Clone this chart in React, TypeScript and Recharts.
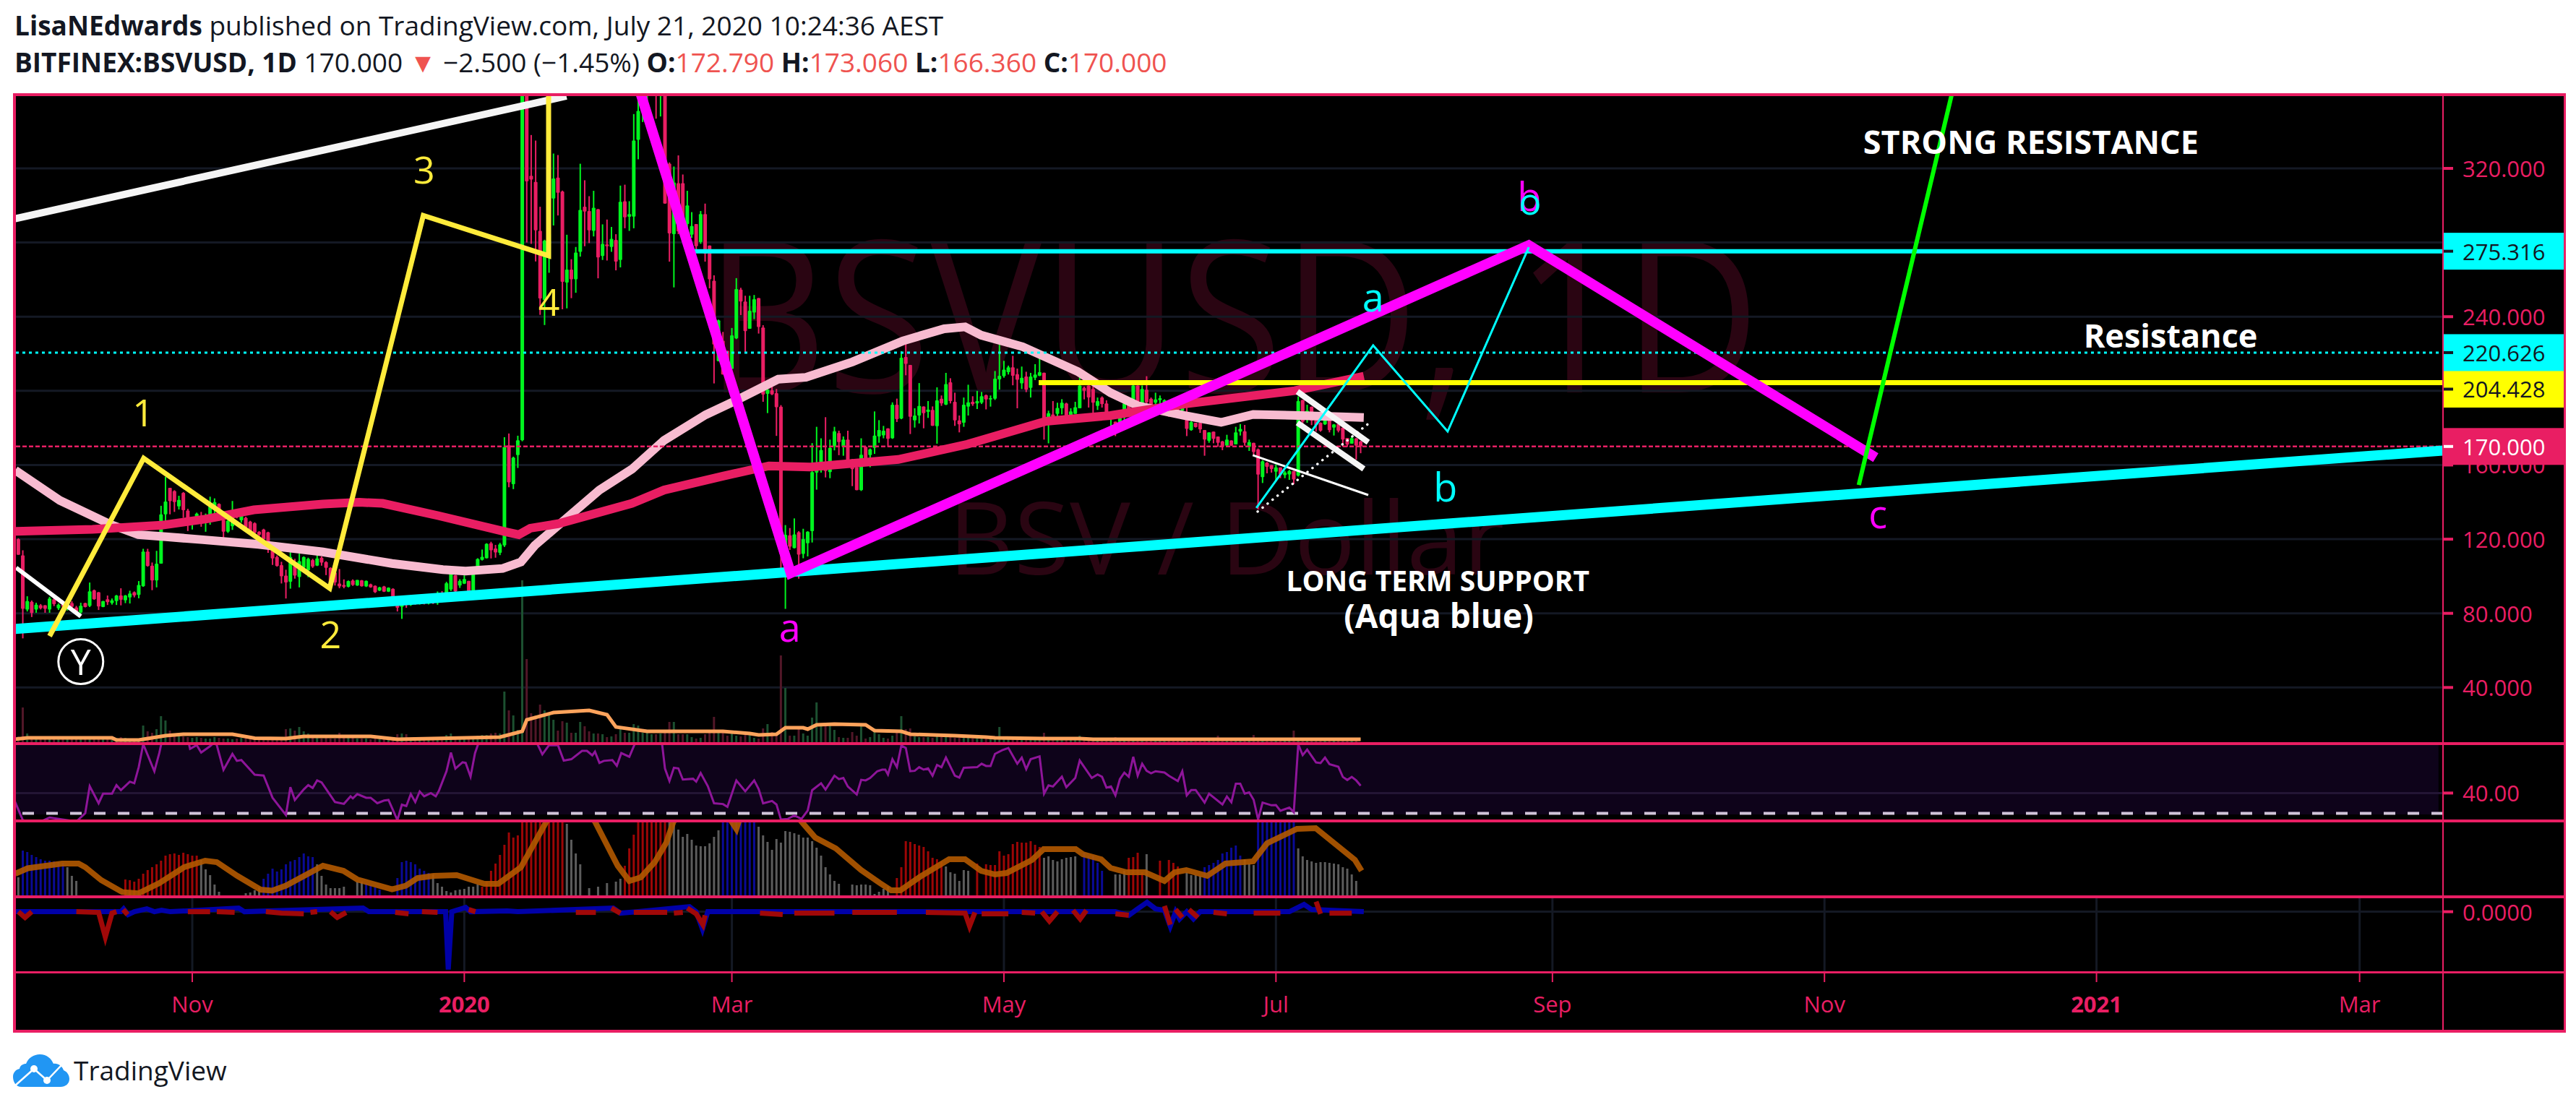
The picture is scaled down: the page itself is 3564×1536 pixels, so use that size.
import React from 'react';
import { ComposedChart, Bar, Line, Scatter, XAxis, YAxis, CartesianGrid, ReferenceArea, ReferenceLine } from 'recharts';

// x values are days counted from 1 Nov 2019
const firstDay = -39;
const xDomain = [-39.55, 504.7];
const timeTicks = [0, 61, 121, 182, 243, 305, 366, 427, 486];
const timeLabels = ['Nov', '2020', 'Mar', 'May', 'Jul', 'Sep', 'Nov', '2021', 'Mar'];
const priceGrid = [40, 80, 120, 160, 200, 240, 280, 320];
const priceTicks = [40, 80, 120, 160, 170, 204.428, 220.626, 240, 275.316, 320];

// open, high, low, close per day
const candles = [
  [120, 120.5, 111.6, 111.6], [111.3, 114, 66.5, 82.4], [82, 89.2, 81, 86.6], [86.2, 86.9, 78, 80.2], [82, 85.7, 80.3, 84.7], [84.4, 85, 82.1, 82.7], [84.4, 84.4, 80.3, 82.4], [82, 88.9, 80.3, 88], [87.6, 88.6, 83.9, 85], [82.7, 85.3, 81.8, 84.7],
  [84.7, 85, 83, 83.6], [82.5, 86, 81.5, 85.5], [85.5, 86.5, 82.5, 83.5], [83.2, 84, 80.2, 80.8], [80.5, 85.7, 79.8, 84.1], [85.5, 85.7, 83.2, 83.4], [84, 96.6, 83.4, 91.9], [92.5, 92.8, 87.3, 87.6], [91.4, 91.5, 81.8, 83.7], [83.4, 86.7, 83.3, 86.6],
  [87.6, 89.6, 84.5, 86], [85.5, 88, 84.7, 87], [86.6, 89.9, 84.5, 89.6], [89.6, 93.5, 84.3, 87.3], [87, 89.9, 85.5, 89.6], [88.6, 92.2, 85.3, 90.7], [91.4, 91.8, 88.6, 89.6], [89.9, 97.4, 88.1, 95.3], [94.6, 114.8, 94.3, 113.3], [113.3, 114.8, 105.2, 105.5],
  [105.7, 107.4, 92.5, 97.7], [97.7, 113.7, 94, 106.8], [106.8, 138, 106.8, 133.4], [133.4, 153.6, 127.6, 140.3], [147.7, 147.7, 133.4, 140.5], [146, 146.4, 134.7, 140], [137.7, 143.4, 136, 141.2], [145, 145.4, 131.5, 135.6], [135.4, 136.4, 124.4, 128.6], [127.8, 131.2, 125.2, 130.4],
  [129.1, 134.3, 128.6, 133.8], [132, 134.7, 126.7, 131], [128.6, 133.8, 124, 132.1], [131.7, 142.9, 127.8, 138], [137.3, 142, 132, 140], [139, 139.3, 130, 132.1], [130.4, 131.5, 120.8, 124], [124, 130.8, 123.4, 130], [127, 140.6, 125, 135], [136, 136.4, 131.2, 132],
  [130.2, 134, 128.9, 133.4], [131.5, 132.1, 126, 126.3], [129.5, 129.9, 123.4, 123.7], [128.6, 129.1, 122.4, 123.4], [124, 124.3, 121.7, 122.4], [125.2, 125.6, 119.8, 120], [123.7, 124, 112.6, 116.1], [116.6, 116.9, 106.1, 109.6], [110.4, 111.2, 105.2, 105.5], [106, 107.8, 96.1, 100],
  [100.3, 103.5, 88, 96.6], [97, 113.7, 93.3, 110.4], [105.5, 109.4, 98.7, 100.3], [99.6, 112.2, 94, 108.1], [104.5, 110.7, 104.2, 110.4], [103.2, 110, 99.5, 109.4], [108.7, 109.4, 104.5, 105.2], [105.7, 113.3, 105.5, 109.6], [110, 110.7, 105.7, 107.4], [107.7, 108.1, 100.6, 104.5],
  [104.5, 104.8, 93.8, 96.6], [102, 103.5, 95, 96.6], [96.1, 103.9, 93.5, 94.5], [95.3, 98.3, 93.5, 94.3], [94.3, 97.7, 94, 97.4], [97.7, 98.3, 94.8, 95.3], [95, 98, 94.8, 98], [97.8, 98, 94.4, 94.6], [94.5, 97.7, 94.2, 97.5], [95.7, 96, 93.8, 94],
  [94.9, 95, 91, 91.4], [92.3, 94.3, 92, 94], [94.5, 94.8, 91.5, 91.7], [91.7, 94, 91.5, 93.8], [93.2, 93.5, 88.5, 88.9], [88.9, 89, 81, 83], [83.5, 88.8, 77, 86], [86, 86.7, 83, 84.5], [84.5, 86.5, 84, 86], [86, 87, 84.6, 85],
  [85, 87, 84.7, 86.4], [86.4, 87, 84.8, 85.2], [85.2, 87.2, 84.8, 86.8], [86.8, 88, 85, 85.6], [85.6, 91.8, 84.6, 88.5], [88.5, 92, 86, 87.6], [88, 97, 87, 96.3], [92.8, 102, 92, 101.5], [100.5, 100.7, 91.5, 91.8], [95, 98.4, 93.7, 97.5],
  [96, 100.5, 95.8, 98.5], [97.5, 97.5, 91.7, 91.7], [92.3, 104.5, 91.4, 103.2], [103.2, 109.7, 102.7, 109.3], [108.8, 114.4, 108.5, 110.5], [109.7, 117.8, 109.6, 117.5], [117.8, 118.6, 109.6, 114], [115, 116.9, 110, 112.8], [112.6, 118, 111.4, 117.2], [116.6, 175, 115.8, 169.7],
  [170.6, 177, 148, 150.6], [149.7, 164.5, 147, 164], [165.3, 175.8, 158.4, 173.3], [173.3, 380, 172.8, 370], [370, 372, 280, 313], [316, 338, 279.3, 314], [312.7, 335, 269.8, 286.6], [286.3, 299.3, 241, 249.8], [249, 281.5, 235.5, 281], [272, 290, 263.7, 285],
  [303.7, 328, 289.2, 314.5], [315, 327.2, 294.6, 306.8], [307.5, 308, 244, 258.8], [258.4, 284.2, 244.5, 265.4], [265.4, 271, 250, 260.2], [260.2, 277.6, 252.9, 274.6], [275, 322.5, 272.4, 297.6], [299.3, 313.6, 278, 296.7], [297, 305, 279.7, 286.6], [286.3, 307.9, 283.3, 298.8],
  [298, 298.1, 260.7, 272], [272.7, 289.8, 270.6, 279.3], [279, 292.4, 270.3, 278], [277.6, 288.4, 275, 282], [281.4, 284.5, 265, 269.7], [270.6, 310.7, 266.6, 302], [302.3, 311.2, 287.7, 293.6], [293.9, 302.3, 286.3, 295.3], [294, 349.3, 287.7, 335], [335.4, 372, 324.9, 351],
  [351, 380, 345, 362], [360, 385, 355, 372], [372, 395, 360, 380], [380, 400, 346.8, 359], [360, 385, 348, 365], [375, 385, 301, 301], [322.5, 323.2, 269.7, 284.9], [284.5, 321, 255.8, 312.4], [312, 327, 284.5, 286], [312, 316.7, 284.5, 287],
  [290, 307.9, 283.8, 300], [284.2, 296.4, 282.5, 288.9], [290, 289.8, 275.7, 278], [280.2, 297, 279.3, 295.3], [295.3, 301, 269.7, 274], [278.4, 278.4, 255.3, 260.2], [259.4, 262.3, 204, 225], [216, 238.4, 215.9, 238], [227, 231.8, 208.8, 208.8], [221.6, 221.6, 208, 212],
  [211.8, 233.9, 211.8, 230], [228.3, 260.8, 227.9, 254.9], [254.6, 255.6, 240.9, 248.2], [248.2, 251.3, 220.9, 232.2], [233.5, 251.3, 233.5, 243.2], [242.2, 251.7, 238.7, 249.4], [250, 250.1, 230.9, 234.4], [234.1, 235.4, 194.1, 198], [198.4, 203.6, 188, 200.6], [200.3, 205.3, 197.7, 198.1],
  [198.8, 201, 175.7, 191.2], [191.5, 192.3, 104, 112], [103.5, 127.6, 82.4, 122.4], [122.1, 126, 114.2, 115.9], [115.2, 131.2, 115, 122.6], [123.7, 124.3, 98.7, 111.7], [112, 125.6, 109.7, 120], [117.8, 124.3, 110.7, 124], [124.3, 171.8, 118.2, 156.2], [155.9, 180.6, 146.7, 160.7],
  [157.2, 174.4, 155.9, 168.1], [161.4, 185.8, 153.3, 156.8], [156.2, 173.7, 152.9, 169.2], [170.2, 180.6, 167.9, 178.2], [177.2, 178.5, 165.3, 172.4], [169.8, 175.4, 165, 173.7], [173.7, 178.5, 162.7, 162.7], [162.9, 163.3, 148.6, 157.7], [158.8, 162, 146.4, 146.4], [146.4, 174.4, 146, 165.5],
  [169.8, 170, 163, 163], [165.3, 168.9, 158.8, 168.5], [169.2, 188.9, 166, 175.9], [175.4, 184.2, 172, 178.9], [176, 181.1, 174.4, 178.5], [179.8, 179.8, 169.7, 174.1], [174.4, 193.8, 174.1, 192.5], [192.5, 195.8, 183.2, 184.7], [185, 221.4, 184.7, 217.9], [218.3, 227, 208.4, 214.6],
  [214, 214, 176.7, 186], [184.1, 190.6, 180.2, 186.7], [186.7, 204.2, 182.4, 191.9], [191.6, 191.6, 179.8, 188], [188.6, 194.5, 185.4, 189.9], [189.7, 191.6, 181.1, 181.1], [180.9, 201.9, 171.5, 194.9], [195.8, 197.5, 191.9, 193.2], [192.5, 209.7, 192.3, 203.6], [204.6, 206.8, 193.2, 194.5],
  [194.1, 199, 181.1, 184.1], [184.1, 186.7, 177.6, 181.9], [182.8, 196.4, 180.6, 192.5], [191.5, 203.3, 186.7, 193.8], [194.1, 197.1, 191.9, 192.8], [193.2, 200, 190.2, 194.5], [193.6, 199.4, 192.9, 197.1], [197.7, 198, 190, 195.4], [195.4, 197.5, 191.5, 196], [195.8, 210.7, 195.1, 206.6],
  [206.2, 228.3, 200.7, 208.1], [207.9, 216.2, 207.1, 211.4], [210.1, 213.6, 208.8, 212.7], [212.7, 218.9, 203, 208.1], [209, 212, 190.6, 206], [204, 213.1, 201, 207.1], [207.7, 210.3, 199.3, 200.6], [201.6, 209.7, 196.4, 207.7], [207.1, 214.4, 205.8, 208.8], [208.1, 218.5, 207.9, 210.1],
  [209.8, 209.8, 173.7, 182.8], [182.8, 189.3, 171.7, 188], [187.3, 194.5, 183.4, 183.4], [187.6, 193.6, 184.3, 190.8], [190.6, 195.5, 187.3, 193.6], [193.2, 193.6, 184.5, 185.4], [185.8, 190.6, 185, 188.9], [187.6, 194.1, 187.6, 191.2], [190.6, 208.8, 190.6, 202.9], [201.6, 202.3, 195.4, 200],
  [202.9, 202.9, 191, 196.4], [201, 202.9, 186.7, 193.6], [191.9, 196.4, 189.7, 194.5], [196.4, 197, 191, 192.8], [193.2, 194.9, 187.3, 187.3], [184.7, 188, 180.8, 186.3], [183.4, 183.4, 175.6, 178], [182.8, 188.6, 178.9, 188.6], [187.9, 193.6, 184, 193.2], [193.6, 194.9, 188.6, 188.6],
  [191.2, 203.6, 187.3, 202.9], [202.9, 202.9, 190, 193.8], [191.2, 202.9, 190.6, 201], [200.6, 207.9, 189.3, 193.8], [195.8, 196.4, 191.2, 192.5], [193.6, 199, 192.3, 195.4], [195, 197.5, 193, 196], [193.5, 195.4, 191.9, 195], [192.8, 193.8, 186, 188.6], [192, 193, 188.4, 189],
  [192, 193, 187.6, 188], [189.3, 196.4, 187.3, 194.5], [188.6, 191.9, 175.6, 179.5], [178.8, 183.7, 178.5, 183.2], [182.8, 182.8, 180.2, 180.5], [182.8, 182.8, 177.3, 179.2], [178.9, 178.9, 165, 173.7], [173, 177.6, 172, 177.6], [178, 178, 171.7, 174.1], [175.4, 175.4, 169.8, 172],
  [172.8, 173, 168, 169.8], [170.4, 176.3, 170.2, 173.7], [173.2, 173.3, 170.2, 170.4], [171.1, 180.6, 171.1, 177.6], [178, 182.1, 175.9, 179.5], [178.2, 181.6, 170.4, 172], [169.8, 173.7, 167.6, 172.4], [172, 172, 165.5, 167], [168.5, 168.9, 136, 154.8], [153.5, 162.6, 150.3, 162],
  [161.3, 161.6, 155.5, 159], [160, 160, 155.9, 157.8], [156.4, 160.3, 151, 158.7], [158.7, 158.7, 152.9, 154.8], [154.5, 156.8, 152.9, 156], [154.9, 157.4, 152, 156.8], [156.8, 156.8, 149.6, 152.2], [154.2, 197, 153.8, 194.5], [195.1, 195.1, 181.5, 183.4], [184.5, 192.5, 182.8, 189.3],
  [191.5, 191.5, 181.5, 184], [184.7, 185, 178, 181.5], [182.8, 183, 178, 178.5], [181.9, 187, 181.6, 186.7], [185.4, 185.4, 177.6, 178.8], [180.2, 182.1, 175.9, 181.9], [182.1, 182.1, 177.6, 178.5], [180.2, 180.2, 169.8, 173.7], [174.6, 174.6, 169.8, 171], [171.5, 175.4, 171.5, 174.5],
  [174.3, 174.6, 162.9, 170.4], [172.79, 173.06, 166.36, 170],
];

const volumes = [
  8, 48, 12, 8, 6, 6, 5, 5, 6, 5, 5, 5, 6, 6, 7, 5, 5, 4, 5, 5, 6, 6, 6, 7, 6, 5, 5, 5, 23, 15, 13, 18, 36, 30, 16, 10, 8, 8, 7,
  6, 7, 6, 5, 5, 7, 6, 5, 5, 4, 5, 6, 5, 5, 5, 5, 5, 6, 6, 5, 6, 18, 19, 16, 21, 15, 12, 8, 6, 5, 6, 5, 5, 13, 8, 6, 6, 5, 5, 5, 4, 5, 4, 4, 4, 5, 11, 12, 11, 6, 5, 5, 5, 4, 5, 6, 6, 10, 12, 7, 7, 8, 7, 8, 9, 10, 10, 12, 13, 12,
  70, 44, 37, 17, 224, 115, 40, 37, 52, 44, 38, 31, 16, 29, 27, 13, 13, 28, 22, 15, 12, 12, 11, 7, 8, 11, 19, 13, 13, 25, 23, 13, 13, 11, 11, 12, 17, 28, 28, 11, 11, 11, 7, 5, 6, 11, 15, 35, 14,
  14, 9, 12, 9, 8, 10, 11, 6, 5, 19, 25, 14, 10, 120, 75, 9, 9, 19, 12, 9, 34, 55, 24, 23, 23, 17, 7, 6, 6, 14, 9, 25, 5, 7, 19, 11, 6, 5, 9, 14, 36, 18, 19, 8, 7, 7, 7, 6, 8, 7, 7, 9, 6, 6, 6, 6, 5, 5, 5, 5, 5, 7, 21, 5, 5,
  4, 4, 4, 4, 4, 4, 4, 13, 4, 4, 4, 4, 4, 4, 4, 9, 4, 3, 3, 3, 3, 3, 3, 7, 3, 3, 3, 3, 3, 3, 3, 3, 3, 3, 3, 3, 3, 3, 3, 3, 3, 3, 3, 3, 3, 3, 9, 3, 3, 3, 3, 3, 3, 3, 10, 3, 3, 3, 3, 3, 3, 3, 3, 16, 4, 4, 4, 4, 4, 3, 3, 3, 3, 3, 3, 3, 3, 3,
];

const volumeAverage = [[-40, 4], [-37, 6], [-18, 6], [-17, 3], [-12, 3], [-6, 9], [-2, 11], [9, 11], [14, 5.5], [21, 5], [25, 8], [40, 8], [46, 4], [69, 7], [74, 15], [75, 31], [81, 41], [89, 44], [93, 38], [95, 21], [102, 15], [119, 15], [125, 12], [127, 10], [131, 11], [133, 20], [137, 20], [138, 18], [140, 24], [144, 25], [151, 24], [153, 16], [159, 15], [161, 11], [171, 9], [178, 7], [180, 6], [191, 5], [199, 5], [202, 4], [262, 4]];

const slowAverage = [[-39.7, 157.2], [-29.7, 140.9], [-18.3, 127.9], [-12.1, 122.4], [-5.9, 121.3], [2.4, 119.7], [14.8, 117.2], [29.3, 113.1], [44.8, 106.9], [56.2, 103.6], [61.3, 102.8], [69.6, 104.2], [73.7, 107.7], [76.8, 116.6], [91.3, 146.5], [98.6, 157.8], [105.8, 173.3], [115.1, 187.1], [122.1, 195], [131.4, 206.3], [137.6, 207.3], [148, 215.6], [159.3, 226.9], [168.6, 233.5], [173.3, 234.5], [176.9, 230], [186.2, 223.8], [198.6, 210.4], [205.9, 199], [212.1, 191.9], [222.4, 186.7], [230.7, 183], [237.9, 187.3], [248.3, 186.7], [262.7, 185.6]];
const longAverage = [[-39.7, 124.2], [-22.4, 125.3], [-6.9, 127.5], [3.4, 131], [13.8, 135.8], [29.3, 138.9], [37.5, 139.9], [42.7, 139.3], [55.1, 132.7], [70.6, 123.8], [73.2, 122.4], [75.8, 125.9], [82, 128.3], [98.6, 139.3], [105.8, 146.5], [119, 154], [129.3, 159.5], [138.6, 158.9], [158.3, 163], [173.8, 171.2], [191.4, 183.6], [205.9, 186.7], [222.4, 192.9], [247.2, 200.1], [262.7, 207.9]];

const rsiLine = [[-40, 37], [-38, 26.7], [-35, 25], [-32, 28], [-26, 26], [-24, 30.1], [-23, 43.4], [-21, 35], [-20, 39.7], [-18, 39.7], [-17, 43.9], [-16, 41.4], [-14, 45.6], [-13, 44.8], [-12, 52.8], [-11, 64], [-8.5, 50.7], [-7.4, 59.6], [-6.7, 66.5], [-1, 66.5], [-0.5, 61.7], [1, 63.5], [2, 59.9], [4, 63], [5, 65], [5.5, 63.5], [7, 51.4], [9, 59.2], [10, 55.8], [11, 56.2], [14, 49], [16, 48.6], [18, 37.7], [21, 29.2], [22, 42.9], [23, 36.6], [25, 41.8], [26, 43.9], [27, 42.5], [28, 46.2], [29, 45.2], [32, 35.6], [34, 34.7], [35.5, 38.4], [36, 37.4], [37, 39.5], [39, 37.7], [40, 37.7], [41.5, 35], [43, 36.3], [44, 36.6], [46, 26.7], [47, 34.3], [48, 33.6], [49, 39.5], [50, 35.6], [51, 40.8], [52, 38.4], [53.5, 40], [54.6, 38.4], [55.3, 41.1], [57, 50.7], [58, 59.9], [59, 52], [60.6, 55.1], [61.3, 54.8], [62.4, 48], [63.4, 59.6], [64.5, 66.5], [77, 66.5], [77.4, 64], [78.5, 59], [80, 63.5], [82, 63.5], [83.3, 55.9], [85, 56.6], [87.4, 60.7], [88.5, 60.7], [89.7, 58.5], [90.3, 60.3], [91.3, 54.8], [92.3, 55.8], [94.2, 56.2], [95.2, 53.4], [96.2, 59.6], [98, 57.8], [99.4, 65], [105.3, 65], [106, 52], [107, 45.9], [108, 52.4], [109, 52.1], [110, 46.6], [112.3, 47], [113, 45.6], [114, 49.8], [115.6, 43.4], [117, 35], [119, 34.6], [120, 33.2], [122, 46.2], [124, 40.9], [126, 46.2], [127, 42], [128, 34.9], [130, 36.1], [131, 34.4], [132, 27], [133.5, 27.3], [135, 29], [136.6, 27.3], [138, 31.4], [139, 41.4], [141, 44.8], [142, 41.7], [144, 48.5], [145, 46.8], [146, 47.4], [147, 43.2], [149, 39.3], [150, 46.5], [151, 46.2], [152, 47.4], [153.6, 50.7], [154.7, 51.5], [155.4, 51.5], [156, 49.1], [157, 56.6], [158, 52.7], [159, 63.3], [160, 62.1], [161, 50.7], [162, 50.9], [163, 52.7], [164, 51.5], [165, 52.1], [166, 48.5], [167, 53.8], [168, 52.7], [169, 57.4], [171, 48.5], [172, 47.6], [173, 52.4], [176, 52.7], [177, 54.4], [178, 53.3], [179, 53.3], [180, 59.2], [181.6, 61], [183, 62.1], [185, 54.4], [186, 57.4], [187, 51.7], [188, 56.6], [190, 58], [191, 39.7], [192, 43.8], [193, 43.2], [195, 48], [196, 42.9], [198, 47.4], [199, 56], [201.7, 47.4], [203, 49.1], [204, 48], [205, 42.6], [206, 43.2], [207, 38.9], [208, 46.8], [209, 50], [210, 48], [211, 57.8], [212, 48.5], [213, 54.4], [214, 50.9], [215, 49.7], [216, 50.7], [218, 50.1], [219, 48.5], [221, 45.9], [222, 50.7], [223, 38.9], [224, 41.5], [225, 41.5], [227, 35.3], [228, 39.7], [231, 34.4], [232, 38.3], [233, 35.5], [234, 44.6], [235, 44.6], [236, 39.7], [237, 40.3], [238, 36.7], [239, 27], [240, 35.3], [242, 34], [243, 34.1], [244, 31.3], [246, 32.9], [247, 30.6], [248, 63.9], [249, 58.6], [250, 61.3], [252, 55], [253, 54.7], [254, 57.4], [255, 54.2], [257, 52.9], [258, 47.9], [259, 46.4], [260, 47.9], [261, 46.2], [262, 43.6]];

// histogram of the third pane, [day, height]
const histBlue = [[-38, 62], [-37, 60], [-36, 56], [-35, 53], [-34, 50], [-33, 48], [-32, 48], [-31, 47], [-30, 46], [-29, 45], [16, 23], [17, 30], [18, 37], [19, 33], [20, 36], [21, 43], [22, 47], [23, 49], [24, 53], [25, 58], [26, 54], [27, 53], [39, 17], [40, 14], [41, 11], [42, 8], [46, 24], [47, 46], [48, 48], [49, 46], [50, 43], [51, 37], [52, 34], [53, 31], [119, 110], [120, 110], [121, 110], [122, 110], [123, 110], [124, 110], [125, 110], [126, 110], [200, 59], [201, 54], [202, 55], [203, 45], [204, 34], [227, 39], [228, 42], [229, 45], [230, 49], [231, 58], [232, 60], [233, 66], [234, 69], [235, 55], [239, 110], [240, 110], [241, 110], [242, 110], [243, 110], [244, 110], [245, 110], [246, 110], [247, 110]];
const histRed = [[-15, 22], [-14, 21], [-13, 19], [-12, 23], [-11, 30], [-10, 35], [-9, 39], [-8, 43], [-7, 48], [-6, 55], [-5, 57], [-4, 58], [-3, 56], [-2, 59], [-1, 57], [0, 55], [1, 55], [65, 12], [66, 19], [67, 34], [68, 44], [69, 56], [70, 70], [71, 87], [72, 80], [73, 83], [74, 104], [75, 110], [76, 110], [77, 110], [78, 110], [79, 110], [80, 110], [81, 110], [82, 110], [83, 110], [97, 41], [98, 65], [99, 84], [100, 104], [101, 110], [102, 110], [103, 110], [104, 110], [105, 110], [106, 110], [158, 24], [159, 39], [160, 75], [161, 74], [162, 71], [163, 69], [164, 67], [165, 61], [166, 52], [167, 50], [168, 47], [176, 44], [178, 43], [179, 42], [180, 42], [181, 61], [182, 55], [183, 57], [184, 71], [185, 74], [186, 73], [187, 73], [188, 75], [189, 70], [190, 67], [210, 52], [211, 53], [212, 59], [213, 32], [217, 48], [219, 49], [220, 45], [221, 40]];
const histGrey = [[-39, 25], [-28, 39], [-27, 27], [-26, 20], [2, 49], [3, 36], [4, 28], [5, 15], [6, 5], [12, 3], [13, 4], [14, 7], [15, 11], [28, 43], [29, 27], [30, 15], [31, 10], [32, 10], [33, 10], [34, 12], [37, 19], [38, 19], [54, 29], [55, 17], [56, 12], [57, 6], [58, 4], [59, 7], [60, 8], [61, 9], [62, 12], [63, 12], [64, 15], [84, 99], [85, 77], [86, 58], [87, 43], [89, 10], [91, 12], [93, 17], [95, 19], [96, 23], [107, 104], [108, 104], [109, 91], [110, 81], [111, 85], [112, 77], [113, 69], [114, 68], [115, 68], [116, 72], [117, 81], [118, 90], [127, 95], [128, 83], [129, 74], [130, 63], [131, 78], [132, 73], [133, 89], [134, 88], [135, 86], [136, 84], [137, 80], [138, 80], [139, 75], [140, 66], [141, 55], [142, 39], [143, 29], [144, 20], [145, 16], [148, 15], [149, 14], [150, 15], [151, 15], [152, 14], [153, 2], [154, 5], [155, 9], [156, 12], [169, 40], [170, 32], [171, 30], [172, 20], [173, 35], [174, 34], [191, 52], [192, 54], [193, 49], [194, 47], [195, 50], [196, 52], [197, 53], [198, 54], [207, 29], [208, 29], [209, 34], [214, 57], [223, 32], [224, 28], [225, 28], [226, 27], [236, 50], [237, 44], [238, 42], [248, 65], [249, 54], [250, 49], [251, 47], [252, 45], [253, 46], [254, 46], [255, 45], [256, 44], [257, 43], [258, 39], [259, 37], [260, 29], [261, 20]];
const histSignal = [[-39.7, 30], [-36.9, 37.5], [-32.8, 41], [-29.2, 44], [-25.5, 44], [-24, 39], [-20.4, 21], [-15.7, 4.6], [-12.1, 2.7], [-7.4, 17], [-1.8, 39], [2.9, 48], [5.5, 46], [10.1, 27], [15.3, 8], [17.9, 6.6], [21, 13.5], [29.3, 41], [33.9, 34], [37, 22], [44.8, 8.5], [47.9, 13.5], [50.5, 24], [54.1, 27], [59.3, 28], [65.5, 16], [68.6, 16], [73.7, 39], [79.4, 102], [84, 130], [87, 130], [90.3, 102], [95.4, 41], [98, 20], [100.6, 25], [103.7, 46], [106.3, 73], [107.9, 102], [112, 130], [118, 130], [122, 92], [124, 130], [133, 130], [136.6, 102], [139.7, 80], [144.3, 65], [150, 35], [154.2, 17], [156.7, 7], [158.8, 7], [163.5, 27], [169.7, 50], [173.3, 50], [176.9, 34], [180, 29], [182.6, 31], [188.3, 49], [190.9, 64], [198.1, 64], [199.7, 57], [203.8, 50], [205.9, 38], [209.5, 32], [213.6, 32], [218, 20], [220.3, 32], [222.9, 35], [227.6, 27], [231.7, 44], [237.9, 47], [241, 72], [247.7, 92], [251.9, 93], [260.7, 49], [262.2, 34]];

const flowBlue = [[-40, 0], [-16, 0], [-15.4, 4], [-14.4, -4], [-13, 0], [-10.2, 4], [-8.5, 0], [-6.9, 2], [-4.9, 0], [10.4, 5], [11.7, 0], [38.3, 5], [39.6, 0], [56.8, 0], [57.4, -80], [58.2, 0], [61.3, 6], [62.4, 0], [70.6, 1], [73, 0], [94.4, 5], [96, -2], [100, 0], [111.5, 7], [113, 0], [114.4, -24], [115.6, 0], [207, 0], [210, -5], [212, 4], [214.1, 13], [216, 4], [218, 2], [219.3, -20], [220.5, 0], [221.4, -10], [223, 0], [224.5, -10], [226, 0], [246, 0], [249.3, 10], [251, 3], [262.7, 0]];
const flowRedRuns = [
  [[-39, 0], [-37.5, -8], [-36, 0]],
  [[-26, 0], [-21, -1], [-19.5, -35], [-18, -2], [-17, 0]],
  [[-15.5, 3], [-14.5, -4]],
  [[-1, 0], [4, 0]],
  [[5.5, 0], [9.5, -1]],
  [[16.5, 0], [20, -2], [25, -3]],
  [[26.5, -1], [28, 0]],
  [[31, 0], [32.5, -8], [34.5, -1]],
  [[45.5, -1], [48.5, -3]],
  [[51.5, 0], [55, -1]],
  [[62, 3], [63.5, 0]],
  [[86, -1], [90.5, -1]],
  [[94, 5], [96, -2]],
  [[99, -1], [106.5, -1]],
  [[108, -2], [110, -1]],
  [[111, 5], [113, -3], [114.5, -18], [115, -5]],
  [[127.3, -2], [132.4, -4]],
  [[135, -2], [144, -2]],
  [[148, -1], [158, -1]],
  [[164.5, -1], [173.3, -2], [174.3, -20], [175.5, -1]],
  [[177, -3], [183, -3]],
  [[186, -1], [189, -2]],
  [[190.5, 0], [192.2, -13], [194, 0]],
  [[197.5, 2], [199.1, -10], [200.5, 2]],
  [[207, -3], [210, -5]],
  [[218, 8], [219.3, -18]],
  [[220.5, 3], [222, -8]],
  [[223.5, 3], [225.5, -8]],
  [[229, -1], [232, -3]],
  [[238, -2], [244, -2]],
  [[252, 14], [253, -3]],
  [[255, -2], [260, -2]],
];

// drawings on the price pane, [day, price]
const whiteTrend = [[-39.7, 292.9], [83.9, 359]];
const whiteBreak = [[-39.5, 104.6], [-25, 78.4]];
const yellowWave = [[-32, 67.7], [-10.9, 163.6], [30.8, 93.5], [51.8, 294.6], [79.9, 272.9], [79.9, 362]];
const magentaWave = [[100.6, 359.9], [134.2, 101.7], [299.7, 278.5], [377.5, 164]];
const supportLine = [[-39.7, 71.6], [504.7, 167.8]];
const resistanceTop = [[112.3, 275.316], [504.7, 275.316]];
const resistanceMid = [[-39.55, 220.626], [504.7, 220.626]];
const resistanceLow = [[189.8, 204.428], [504.7, 204.428]];
const lastPrice = [[-39.55, 170], [504.7, 170]];
const greenRise = [[373.7, 149.2], [394.5, 359.5]];
const cyanForecast = [[238.6, 136.8], [264.8, 224.5], [281.5, 178.1], [299.7, 277.5]];
const flagDotted = [[238.9, 134.9], [264, 182.8]];
const flagThin = [[237.8, 165.3], [263.7, 143.8]];
const flagUpper = [[247.8, 199.6], [263.7, 172.3]];
const flagLower = [[247.8, 182.8], [262.7, 157.9]];

const annotations = [
  { day: -11, price: 188.8, text: '1', kind: 'yellow' },
  { day: 31, price: 69, text: '2', kind: 'yellow' },
  { day: 52, price: 319.7, text: '3', kind: 'yellow' },
  { day: 80, price: 248.6, text: '4', kind: 'yellow' },
  { day: -25, price: 54, text: 'Y', kind: 'ring' },
  { day: 134, price: 72.9, text: 'a', kind: 'magenta' },
  { day: 264.8, price: 251, text: 'a', kind: 'cyan' },
  { day: 281, price: 148.5, text: 'b', kind: 'cyan' },
  { day: 299.8, price: 305.2, text: 'b', kind: 'magenta' },
  { day: 300, price: 303, text: 'o', kind: 'cyanSmall' },
  { day: 378, price: 134, text: 'c', kind: 'magenta' },
  { day: 412.3, price: 334.8, text: 'STRONG RESISTANCE', kind: 'strong' },
  { day: 443.6, price: 230, text: 'Resistance', kind: 'resistance' },
  { day: 279.3, price: 98.2, text: 'LONG TERM SUPPORT', kind: 'support' },
  { day: 279.5, price: 79, text: '(Aqua blue)', kind: 'aqua' },
];

const FONT = '"Open Sans", sans-serif';
const ACCENT = '#e91e63';
const GRID = '#141924';
const PLOT_RIGHT = 167;
const CHART_W = 3525;
const noMargin = { top: 0, right: 0, bottom: 0, left: 0 };
const sideMargin = { top: 0, right: PLOT_RIGHT, bottom: 0, left: 0 };

const annotationStyle: Record<string, any> = {
  yellow: { color: '#ffeb3b', size: 52, weight: 400 },
  ring: { color: '#ffffff', size: 50, weight: 400 },
  magenta: { color: '#ff00ff', size: 54, weight: 400 },
  cyan: { color: '#00ffff', size: 54, weight: 400 },
  cyanSmall: { color: '#00ffff', size: 52, weight: 400 },
  strong: { color: '#ffffff', size: 45, weight: 700 },
  resistance: { color: '#ffffff', size: 45, weight: 700 },
  support: { color: '#ffffff', size: 39, weight: 700 },
  aqua: { color: '#ffffff', size: 46, weight: 700 },
};

const levelBoxes: Record<number, any> = {
  170: { fill: ACCENT, color: '#ffffff', shift: 0 },
  204.428: { fill: '#ffff00', color: '#131722', shift: 9 },
  220.626: { fill: '#00ffff', color: '#131722', shift: 0 },
  275.316: { fill: '#00ffff', color: '#131722', shift: 0 },
};

const toPoints = (list: number[][]) => list.map(([day, value]) => ({ day, value }));

const candleRows = candles.map(([o, h, l, c], i) => ({ day: firstDay + i, o, h, l, c, range: [l, h] }));
const volumeRows = volumes.map((vol, i) => ({ day: firstDay + i, vol, fill: candles[i] && candles[i][3] < candles[i][0] ? '#521728' : '#1c5030' }));
const histRows = [
  ...histBlue.map(([day, value]) => ({ day, value, fill: '#0a0a96' })),
  ...histRed.map(([day, value]) => ({ day, value, fill: '#9c0606' })),
  ...histGrey.map(([day, value]) => ({ day, value, fill: '#5c5c5c' })),
].sort((a, b) => a.day - b.day);

const Candle = (props: any) => {
  const { x, y, width, height, payload } = props;
  const { o, h, l, c } = payload;
  const k = height / (h - l || 1);
  const cx = x + width / 2;
  const top = y + (h - Math.max(o, c)) * k;
  const bodyH = Math.max(Math.abs(o - c) * k, 1.5);
  const color = c >= o ? '#00f51f' : ACCENT;
  return (
    <g>
      <rect x={cx - 1} y={y} width={2} height={height} fill={color} />
      <rect x={cx - 2.5} y={top} width={5} height={bodyH} rx={1} fill={color} />
    </g>
  );
};

// thin column, always 3px wide whatever band the axis hands over
const Column = (props: any) => {
  const { x, y, width, height, payload } = props;
  return <rect x={x + width / 2 - 1.5} y={y} width={3} height={height} fill={payload.fill} />;
};

const Annotation = (props: any) => {
  const { cx, cy, payload } = props;
  const st = annotationStyle[payload.kind];
  return (
    <g>
      {payload.kind === 'ring' && <circle cx={cx} cy={cy} r={31} fill="none" stroke="#ffffff" strokeWidth={3} />}
      <text x={cx} y={cy} textAnchor="middle" dominantBaseline="central" fill={st.color} fontSize={st.size} fontWeight={st.weight} fontFamily={FONT}>
        {payload.text}
      </text>
    </g>
  );
};

const PriceTick = (props: any) => {
  const { x, y, payload } = props;
  const value = payload.value;
  const box = levelBoxes[value];
  if (box) {
    const cy = y + box.shift;
    return (
      <g>
        <rect x={x} y={cy - 25.5} width={167} height={51} fill={box.fill} />
        <rect x={x} y={cy - 2} width={14} height={4} fill={box.color} />
        <text x={x + 27} y={cy} dominantBaseline="central" fill={box.color} fontSize={31} fontFamily={FONT}>{value.toFixed(3)}</text>
      </g>
    );
  }
  return (
    <g>
      <rect x={x} y={y - 2} width={14} height={4} fill={ACCENT} />
      <text x={x + 27} y={y} dominantBaseline="central" fill={ACCENT} fontSize={31} fontFamily={FONT}>{value.toFixed(3)}</text>
    </g>
  );
};

const PaneTick = (props: any) => {
  const { x, y, payload, digits } = props;
  return (
    <g>
      <rect x={x} y={y - 2} width={14} height={4} fill={ACCENT} />
      <text x={x + 27} y={y} dominantBaseline="central" fill={ACCENT} fontSize={31} fontFamily={FONT}>{payload.value.toFixed(digits)}</text>
    </g>
  );
};

const TimeTick = (props: any) => {
  const { x, y, payload } = props;
  const label = timeLabels[timeTicks.indexOf(payload.value)];
  const isYear = label === '2020' || label === '2021';
  return (
    <g>
      <rect x={x - 1} y={y + 2} width={2} height={13} fill={ACCENT} />
      <text x={x} y={y + 57} textAnchor="middle" fill={ACCENT} fontSize={31} fontWeight={isYear ? 700 : 400} fontFamily={FONT}>{label}</text>
    </g>
  );
};

const drawn = (list: number[][], color: string, width: number, extra: any = {}) => (
  <Line
    key={`${color}-${list[0][0]}-${list[0][1]}`}
    data={toPoints(list)}
    dataKey="value"
    type="linear"
    dot={false}
    activeDot={false}
    stroke={color}
    strokeWidth={width}
    strokeLinejoin="miter"
    isAnimationActive={false}
    {...extra}
  />
);

const timeAxis = (hidden: boolean) => (
  <XAxis
    dataKey="day"
    type="number"
    scale="linear"
    domain={xDomain}
    allowDataOverflow
    ticks={timeTicks}
    hide={hidden}
    interval={0}
    height={hidden ? 0 : 81}
    axisLine={false}
    tickLine={false}
    tickSize={0}
    tickMargin={0}
    tick={hidden ? false : <TimeTick />}
  />
);

const Pane = ({ top, height, children }: any) => (
  <div style={{ position: 'absolute', left: 22, top, width: CHART_W, height }}>{children}</div>
);

const Rule = ({ left, top, width, height }: any) => (
  <div style={{ position: 'absolute', left, top, width, height, background: ACCENT }} />
);

const Header = () => (
  <>
    <div style={{ position: 'absolute', left: 20, top: 13, fontSize: 37, lineHeight: '44px', color: '#131722', whiteSpace: 'nowrap' }}>
      <b style={{ fontWeight: 700 }}>LisaNEdwards</b> published on TradingView.com, July 21, 2020 10:24:36 AEST
    </div>
    <div style={{ position: 'absolute', left: 20, top: 64, fontSize: 37, lineHeight: '44px', color: '#131722', whiteSpace: 'nowrap' }}>
      <b style={{ fontWeight: 700 }}>BITFINEX:BSVUSD, 1D</b> 170.000 <span style={{ color: '#ef5350' }}>▼</span> −2.500 (−1.45%){' '}
      <b style={{ fontWeight: 700 }}>O:</b><span style={{ color: '#ef5350' }}>172.790</span>{' '}
      <b style={{ fontWeight: 700 }}>H:</b><span style={{ color: '#ef5350' }}>173.060</span>{' '}
      <b style={{ fontWeight: 700 }}>L:</b><span style={{ color: '#ef5350' }}>166.360</span>{' '}
      <b style={{ fontWeight: 700 }}>C:</b><span style={{ color: '#ef5350' }}>170.000</span>
    </div>
  </>
);

const Logo = () => (
  <>
    <svg style={{ position: 'absolute', left: 18, top: 1459 }} width={78} height={46} viewBox="0 0 78 46">
      <path d="M12 45C3 45 0 37 0 31C0 25 4 21 9 20C10 15 14 13 18 13C21 5 29 0 37 0C47 0 53 6 56 13C62 12 68 16 70 22C75 24 78 29 78 34C78 41 72 45 66 45Z" fill="#2196f3" />
      <polyline points="2,44 29,20 47,36 68,14" fill="none" stroke="#ffffff" strokeWidth={2.5} />
      <circle cx={29} cy={20} r={5} fill="#ffffff" />
      <circle cx={47} cy={36} r={5} fill="#ffffff" />
    </svg>
    <div style={{ position: 'absolute', left: 102, top: 1457, fontSize: 37, lineHeight: '48px', color: '#131722' }}>TradingView</div>
  </>
);

const Watermark = () => (
  <svg style={{ position: 'absolute', left: 0, top: 0 }} width={3564} height={1536}>
    <text x={976} y={543} fontSize={293} fontFamily={FONT} fill="#2a0512" textLength={1459} lengthAdjust="spacingAndGlyphs">BSVUSD, 1D</text>
    <text x={1312} y={795} fontSize={140} fontFamily={FONT} fill="#2a0512" textLength={770} lengthAdjust="spacingAndGlyphs">BSV / Dollar</text>
  </svg>
);

export default function App() {
  return (
    <div style={{ position: 'absolute', left: 0, top: 0, width: 3564, height: 1536, background: '#ffffff', fontFamily: FONT, overflow: 'hidden' }}>
      <Header />
      <div style={{ position: 'absolute', left: 22, top: 132, width: 3525, height: 1293, background: '#000000' }} />
      <Watermark />

      <Pane top={132} height={895}>
        <ComposedChart width={CHART_W} height={895} data={volumeRows} margin={sideMargin}>
          <CartesianGrid stroke={GRID} strokeWidth={3} horizontalValues={priceGrid.map((p) => (p - 10.5) * 2.5656)} verticalValues={timeTicks} />
          {timeAxis(true)}
          <YAxis hide type="number" domain={[0, 895]} allowDataOverflow />
          <Bar dataKey="vol" barSize={6} shape={<Column />} isAnimationActive={false} />
          {drawn(volumeAverage, '#ffa35c', 5)}
        </ComposedChart>
      </Pane>

      <Pane top={132} height={895}>
        <ComposedChart width={CHART_W} height={895} data={candleRows} margin={noMargin}>
          {timeAxis(true)}
          <YAxis
            orientation="right"
            type="number"
            width={PLOT_RIGHT}
            domain={[10.5, 359.37]}
            allowDataOverflow
            ticks={priceTicks}
            interval={0}
            axisLine={false}
            tickLine={false}
            tickSize={0}
            tickMargin={0}
            tick={<PriceTick />}
          />
          {drawn(slowAverage, '#f8bbd0', 12)}
          {drawn(longAverage, ACCENT, 12)}
          {drawn(lastPrice, ACCENT, 2.5, { strokeDasharray: '6 3' })}
          {drawn(resistanceMid, '#00ffff', 3, { strokeDasharray: '4 5' })}
          <Bar dataKey="range" barSize={6} shape={<Candle />} isAnimationActive={false} />
          {drawn(resistanceTop, '#00ffff', 6)}
          {drawn(resistanceLow, '#ffff00', 7)}
          {drawn(whiteTrend, '#f5f5f5', 10)}
          {drawn(whiteBreak, '#ffffff', 6)}
          {drawn(supportLine, '#00ffff', 14)}
          {drawn(yellowWave, '#ffeb3b', 7)}
          {drawn(magentaWave, '#ff00ff', 14)}
          {drawn(greenRise, '#00ff00', 6)}
          {drawn(flagThin, '#ffffff', 3)}
          {drawn(flagUpper, '#f5f5f5', 8)}
          {drawn(flagLower, '#f5f5f5', 8)}
          {drawn(flagDotted, '#ffffff', 3.5, { strokeDasharray: '0.1 8.7', strokeLinecap: 'round' })}
          {drawn(cyanForecast, '#00ffff', 3)}
          <Scatter data={annotations.map((a) => ({ ...a, value: a.price }))} dataKey="value" shape={<Annotation />} isAnimationActive={false} />
        </ComposedChart>
      </Pane>

      <Pane top={1031} height={103}>
        <ComposedChart width={CHART_W} height={103} data={toPoints(rsiLine)} margin={noMargin}>
          <CartesianGrid stroke="#1d1228" strokeWidth={3} horizontal={false} verticalValues={timeTicks} />
          {timeAxis(true)}
          <YAxis
            orientation="right"
            type="number"
            width={PLOT_RIGHT}
            domain={[27.02, 63.55]}
            allowDataOverflow
            ticks={[40]}
            axisLine={false}
            tickLine={false}
            tickSize={0}
            tickMargin={0}
            tick={<PaneTick digits={2} />}
          />
          <ReferenceArea x1={xDomain[0]} x2={503.7} y1={29.47} y2={63.55} fill="#6a14c8" fillOpacity={0.13} stroke="none" ifOverflow="hidden" />
          <ReferenceLine y={40} stroke="#231535" strokeWidth={3} />
          <ReferenceLine y={30} stroke="#d1c4d9" strokeWidth={4} strokeDasharray="16 17" />
          {drawn(rsiLine, '#8e1599', 3)}
        </ComposedChart>
      </Pane>

      <Pane top={1138} height={101}>
        <ComposedChart width={CHART_W} height={101} data={histRows} margin={sideMargin}>
          <CartesianGrid stroke={GRID} strokeWidth={3} horizontal={false} verticalValues={timeTicks} />
          {timeAxis(true)}
          <YAxis hide type="number" domain={[0, 101]} allowDataOverflow />
          <Bar dataKey="value" barSize={6} shape={<Column />} isAnimationActive={false} />
          {drawn(histSignal, '#b35900', 8, { strokeOpacity: 0.9 })}
        </ComposedChart>
      </Pane>

      <Pane top={1243} height={182}>
        <ComposedChart width={CHART_W} height={182} data={toPoints(flowBlue)} margin={noMargin}>
          <CartesianGrid stroke={GRID} strokeWidth={3} horizontalValues={[0]} verticalValues={timeTicks} />
          {timeAxis(false)}
          <YAxis
            orientation="right"
            type="number"
            width={PLOT_RIGHT}
            domain={[-82.4, 18.6]}
            allowDataOverflow
            ticks={[0]}
            axisLine={false}
            tickLine={false}
            tickSize={0}
            tickMargin={0}
            tick={<PaneTick digits={4} />}
          />
          {drawn(flowBlue, '#0000a8', 7)}
          {flowRedRuns.map((run) => drawn(run, '#a00808', 7))}
        </ComposedChart>
      </Pane>

      <Rule left={18} top={129} width={3532} height={4} />
      <Rule left={18} top={1425} width={3532} height={4} />
      <Rule left={18} top={129} width={4} height={1300} />
      <Rule left={3547} top={129} width={3} height={1300} />
      <Rule left={18} top={1027} width={3532} height={4} />
      <Rule left={18} top={1134} width={3532} height={4} />
      <Rule left={18} top={1239} width={3532} height={4} />
      <Rule left={18} top={1344} width={3532} height={3} />
      <Rule left={3379} top={129} width={2} height={1300} />
      <Logo />
    </div>
  );
}
